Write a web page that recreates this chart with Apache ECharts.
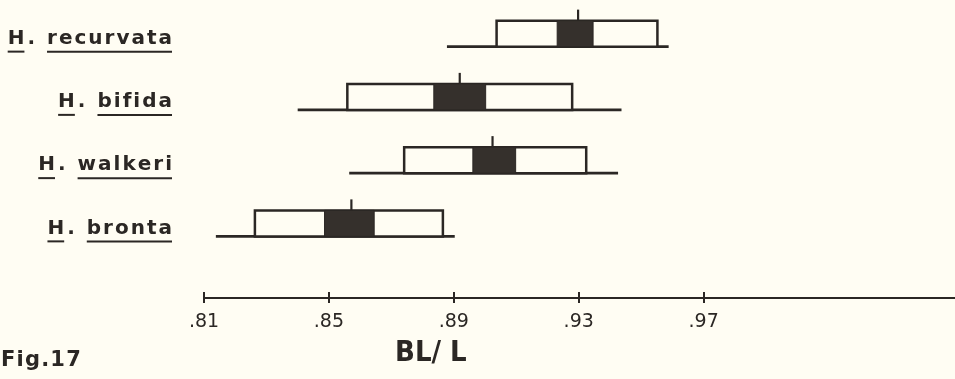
<!DOCTYPE html>
<html>
<head>
<meta charset="utf-8">
<title>Fig.17 BL/L</title>
<script src="https://cdn.jsdelivr.net/npm/echarts@6/dist/echarts.min.js"></script>
<style>
  html, body { margin: 0; padding: 0; background: #fffdf3; }
  #chart { width: 955px; height: 379px; }
</style>
</head>
<body>
<div id="chart"></div>
<script>
// Datos (BL/L)
const genus = "H";
const species = ["recurvata", "bifida", "walkeri", "bronta"];
const rangeMin = [0.8878, 0.8400, 0.8565, 0.8138];
const rangeMax = [0.9588, 0.9437, 0.9426, 0.8903];
const sdLow = [0.9037, 0.8559, 0.8741, 0.8263];
const sdHigh = [0.9552, 0.9279, 0.9324, 0.8865];
const seLow = [0.9231, 0.8836, 0.8961, 0.8486];
const seHigh = [0.9346, 0.9002, 0.9098, 0.8645];
const means = [0.9298, 0.8919, 0.9024, 0.8572];
const tickValues = [0.81, 0.85, 0.89, 0.93, 0.97];
const axisMin = 0.81;
const axisMax = 1.0505;

const ink = "#2b2724";
const paper = "#fffdf3";
const labelFont = 'bold 20px "DejaVu Sans"';

// medir texto con un canvas auxiliar
const measureCtx = document.createElement("canvas").getContext("2d");
function textWidth(str, font) {
  measureCtx.font = font;
  return measureCtx.measureText(str).width;
}

// texto con espaciado entre letras (un elemento por letra)
function spacedText(str, x, y, font, spacing, fill) {
  const parts = [];
  let cx = x;
  for (const ch of str) {
    parts.push({
      type: "text",
      style: { text: ch, x: cx, y: y, font: font, fill: fill, verticalAlign: "bottom", align: "left" },
    });
    cx += textWidth(ch, font) + spacing;
  }
  return { parts, width: cx - x - spacing };
}
function spacedWidth(str, font, spacing) {
  let w = 0;
  for (const ch of str) w += textWidth(ch, font) + spacing;
  return w - spacing;
}

const chart = echarts.init(document.getElementById("chart"));

const seriesData = species.map((s, i) => [
  i, rangeMin[i], rangeMax[i], sdLow[i], sdHigh[i], seLow[i], seHigh[i], means[i],
]);

function renderItem(params, api) {
  const row = api.value(0);
  const px = (v) => api.coord([v, row])[0];
  const cy = api.coord([axisMin, row])[1];
  const halfH = 13;
  const top = cy - halfH;
  const base = cy + halfH;
  const lineStyle = { stroke: ink, lineWidth: 2.6 };

  const children = [
    { type: "line", shape: { x1: px(api.value(1)), y1: base, x2: px(api.value(2)), y2: base }, style: lineStyle },
    { type: "rect", shape: { x: px(api.value(3)), y: top, width: px(api.value(4)) - px(api.value(3)), height: 2 * halfH },
      style: { fill: paper, stroke: ink, lineWidth: 2.5 } },
    { type: "rect", shape: { x: px(api.value(5)), y: top, width: px(api.value(6)) - px(api.value(5)), height: 2 * halfH },
      style: { fill: "#35302c", stroke: ink, lineWidth: 1 } },
    { type: "line", shape: { x1: px(api.value(7)), y1: top, x2: px(api.value(7)), y2: top - 11 }, style: { stroke: ink, lineWidth: 2.2 } },
  ];

  // etiqueta "H. especie" subrayada, alineada a la derecha
  const rightX = px(axisMin) - 32;
  const textBase = cy + 15;
  const name = species[row];
  const wSp = spacedWidth(name, labelFont, 2);
  const spX = rightX - wSp;
  const dotW = textWidth(".", labelFont);
  const dotX = spX - 12 - dotW;
  const wH = textWidth(genus, labelFont);
  const hX = dotX - 3 - wH;
  const sp = spacedText(name, spX, textBase, labelFont, 2, ink);
  children.push(...sp.parts);
  children.push({ type: "text", style: { text: ".", x: dotX, y: textBase, font: labelFont, fill: ink, verticalAlign: "bottom" } });
  children.push({ type: "text", style: { text: genus, x: hX, y: textBase, font: labelFont, fill: ink, verticalAlign: "bottom" } });
  const ulY = textBase + 3;
  children.push({ type: "line", shape: { x1: hX, y1: ulY, x2: hX + wH, y2: ulY }, style: { stroke: ink, lineWidth: 2 } });
  children.push({ type: "line", shape: { x1: spX, y1: ulY, x2: spX + wSp, y2: ulY }, style: { stroke: ink, lineWidth: 2 } });

  return { type: "group", children };
}

const figFont = 'bold 21px "DejaVu Sans"';
const fig = spacedText("Fig.17", 1, 371, figFont, 1.2, ink);

const option = {
  backgroundColor: paper,
  animation: false,
  grid: { left: 204, right: 0, top: 2, height: 253 },
  xAxis: [
    {
      type: "value",
      min: axisMin,
      max: axisMax,
      position: "bottom",
      offset: 43,
      splitLine: { show: false },
      axisLine: { show: true, lineStyle: { color: ink, width: 2.2 } },
      axisTick: { show: true, inside: false, length: 5, customValues: tickValues, lineStyle: { color: ink, width: 2 } },
      axisLabel: {
        customValues: tickValues,
        color: ink,
        fontFamily: "DejaVu Sans",
        fontSize: 19,
        margin: 15,
        formatter: (v) => v.toFixed(2).replace(/^0/, ""),
      },
    },
    {
      type: "value",
      min: axisMin,
      max: axisMax,
      position: "bottom",
      offset: 43,
      splitLine: { show: false },
      axisLine: { show: false },
      axisLabel: { show: false },
      axisTick: { show: true, inside: true, length: 6, customValues: tickValues, lineStyle: { color: ink, width: 2 } },
    },
  ],
  yAxis: {
    type: "category",
    data: species,
    inverse: true,
    show: false,
  },
  series: [
    {
      type: "custom",
      renderItem: renderItem,
      encode: { x: [1, 2, 3, 4, 5, 6, 7], y: 0 },
      data: seriesData,
      clip: false,
    },
  ],
  graphic: [
    { type: "group", children: fig.parts },
    {
      type: "text",
      left: 395,
      top: 339,
      style: { text: "BL/ L", font: 'bold 29px "DejaVu Sans Condensed", "DejaVu Sans"', fill: ink },
    },
  ],
};

chart.setOption(option);
</script>
</body>
</html>
